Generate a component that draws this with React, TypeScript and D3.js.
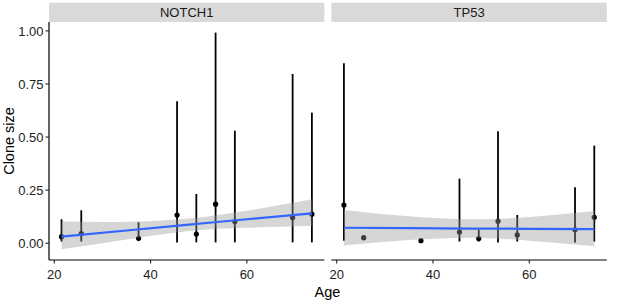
import React from "react";
import * as d3 from "d3";

const panels = ["NOTCH1", "TP53"];
const ages = [21.5, 25.6, 37.5, 45.5, 49.5, 53.5, 57.5, 69.5, 73.5];

const notchVal = [0.031, 0.045, 0.023, 0.133, 0.043, 0.184, 0.102, 0.121, 0.137];
const notchLo = [0.008, 0.008, 0.01, 0.004, 0.004, 0.004, 0.004, 0.004, 0.004];
const notchHi = [0.113, 0.155, 0.099, 0.669, 0.232, 0.992, 0.53, 0.797, 0.615];

const tp53Val = [0.18, 0.026, 0.012, 0.053, 0.022, 0.104, 0.039, 0.063, 0.122];
const tp53Lo = [0.012, 0.014, 0.012, 0.008, 0.008, 0.004, 0.008, 0.004, 0.008];
const tp53Hi = [0.848, 0.036, 0.012, 0.304, 0.066, 0.528, 0.133, 0.264, 0.46];

const ribbonAges = [21.5, 35, 48, 60, 73.5];
const notchFit = [0.031, 0.06, 0.088, 0.113, 0.141];
const notchRibLo = [-0.028, 0.018, 0.058, 0.073, 0.081];
const notchRibHi = [0.102, 0.101, 0.117, 0.153, 0.207];
const tp53Fit = [0.073, 0.071, 0.069, 0.068, 0.066];
const tp53RibLo = [-0.011, 0.015, 0.026, 0.012, -0.014];
const tp53RibHi = [0.157, 0.127, 0.113, 0.124, 0.152];

const xTicks = [20, 40, 60];
const yTicks = [0, 0.25, 0.5, 0.75, 1.0];

const W = 617;
const H = 307;
const FONT = "Arial, 'Liberation Sans', sans-serif";

const panelData = [
  { val: notchVal, lo: notchLo, hi: notchHi, fit: notchFit, rlo: notchRibLo, rhi: notchRibHi },
  { val: tp53Val, lo: tp53Lo, hi: tp53Hi, fit: tp53Fit, rlo: tp53RibLo, rhi: tp53RibHi },
];

export default function App() {
  const panelLefts = [49, 331.4];
  const panelWidth = 275.4;
  const top = 22;
  const bottom = 260;
  const stripTop = 2.7;

  const y = d3.scaleLinear().domain([-0.079, 1.042]).range([bottom, top]);
  const fmt = d3.format(".2f");

  return (
    <svg
      width={W}
      height={H}
      style={{ position: "absolute", left: 0, top: 0, background: "#fff" }}
      fontFamily={FONT}
    >
      <rect x={0} y={0} width={W} height={H} fill="#fff" />
      {panels.map((name, pi) => {
        const x0 = panelLefts[pi];
        const x = d3.scaleLinear().domain([18.9, 76.1]).range([x0, x0 + panelWidth]);
        const pd = panelData[pi];
        const ribIdx = d3.range(ribbonAges.length);
        const area = d3
          .area<number>()
          .x((i) => x(ribbonAges[i]))
          .y0((i) => y(pd.rlo[i]))
          .y1((i) => y(pd.rhi[i]))
          .curve(d3.curveNatural);
        const line = d3
          .line<number>()
          .x((i) => x(ribbonAges[i]))
          .y((i) => y(pd.fit[i]))
          .curve(d3.curveNatural);
        return (
          <g key={name}>
            <rect x={x0} y={stripTop} width={panelWidth} height={top - stripTop} fill="#d9d9d9" />
            <text
              x={x0 + panelWidth / 2}
              y={17}
              textAnchor="middle"
              fontSize={13}
              fill="#1a1a1a"
            >
              {name}
            </text>
            {ages.map((a, i) => (
              <line
                key={"e" + i}
                x1={x(a)}
                x2={x(a)}
                y1={y(pd.lo[i])}
                y2={y(pd.hi[i])}
                stroke="#000"
                strokeWidth={1.8}
              />
            ))}
            {ages.map((a, i) => (
              <circle key={"p" + i} cx={x(a)} cy={y(pd.val[i])} r={2.6} fill="#000" />
            ))}
            <path d={area(ribIdx) || ""} fill="#999999" fillOpacity={0.4} />
            <path d={line(ribIdx) || ""} fill="none" stroke="#3366FF" strokeWidth={2.2} />
            <line x1={x0} x2={x0 + panelWidth} y1={bottom} y2={bottom} stroke="#000" strokeWidth={1.2} />
            {xTicks.map((t) => (
              <g key={"xt" + t}>
                <line x1={x(t)} x2={x(t)} y1={bottom} y2={bottom + 3.5} stroke="#222" strokeWidth={1.1} />
                <text x={x(t)} y={279} textAnchor="middle" fontSize={13} fill="#222">
                  {t}
                </text>
              </g>
            ))}
          </g>
        );
      })}
      <line x1={panelLefts[0]} x2={panelLefts[0]} y1={top} y2={bottom} stroke="#000" strokeWidth={1.2} />
      {yTicks.map((t) => (
        <g key={"yt" + t}>
          <line x1={panelLefts[0] - 3.5} x2={panelLefts[0]} y1={y(t)} y2={y(t)} stroke="#222" strokeWidth={1.1} />
          <text x={43.5} y={y(t) + 4.6} textAnchor="end" fontSize={13} fill="#222">
            {fmt(t)}
          </text>
        </g>
      ))}
      <text x={327.5} y={297} textAnchor="middle" fontSize={14.5} fill="#000">
        Age
      </text>
      <text
        transform={`translate(13.5, ${(top + bottom) / 2}) rotate(-90)`}
        textAnchor="middle"
        fontSize={14.5}
        fill="#000"
      >
        Clone size
      </text>
    </svg>
  );
}
